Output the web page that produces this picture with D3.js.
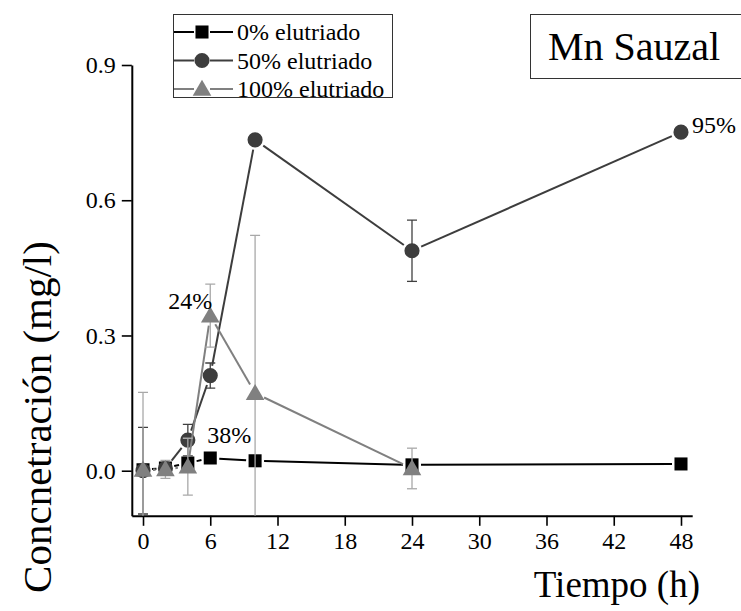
<!DOCTYPE html>
<html>
<head>
<meta charset="utf-8">
<script src="https://cdn.jsdelivr.net/npm/d3@7"></script>
<style>
  html, body { margin: 0; padding: 0; background: #fff; }
  svg text { font-family: 'Liberation Serif', 'Times New Roman', Times, serif !important; fill: #000; }
</style>
</head>
<body>
<svg id="chart" width="741" height="611"></svg>
<script>
// Mn concentration over time for three elutriate proportions
const hours0   = [0, 2, 4, 6, 10, 24, 48];
const conc0    = [0.002, 0.006, 0.017, 0.028, 0.022, 0.013, 0.015];
const err0     = [0, 0, 0, 0, 0, 0, 0];

const hours50  = [0, 2, 4, 6, 10, 24, 48];
const conc50   = [0.000, 0.005, 0.068, 0.211, 0.734, 0.488, 0.751];
const err50    = [0.096, 0, 0.035, 0.028, 0, 0.068, 0];

const hours100 = [0, 2, 4, 6, 10, 24];
const conc100  = [0.002, 0.003, 0.009, 0.344, 0.172, 0.005];
const err100   = [0.172, 0.02, 0.063, 0.07, 0.35, 0.045];

const seriesNames = ["0% elutriado", "50% elutriado", "100% elutriado"];
const xTicks = [0, 6, 12, 18, 24, 30, 36, 42, 48];
const xMinorTicks = [3, 9, 15, 21, 27, 33, 39, 45];
const yTicks = [0.0, 0.3, 0.6, 0.9];
const yMinorTicks = [0.15, 0.45, 0.75];

// Percentage notes placed beside particular points
const notes = [
  { text: "24%", series: 2, index: 3 },
  { text: "38%", series: 0, index: 3 },
  { text: "95%", series: 1, index: 6 }
];

const SERIF = "'Liberation Serif', 'Times New Roman', Times, serif";
const svg = d3.select("#chart");
const x = d3.scaleLinear().domain([-1, 49]).range([131.8, 692.2]);
const y = d3.scaleLinear().domain([-0.1, 0.9]).range([515.8, 65]);

const series = [
  { name: seriesNames[0], hours: hours0,   conc: conc0,   err: err0,
    color: "#000000", errColor: "#000000", symbol: d3.symbolSquare,   size: 170, r: 6.5 },
  { name: seriesNames[1], hours: hours50,  conc: conc50,  err: err50,
    color: "#3d3d3d", errColor: "#404040", symbol: d3.symbolCircle,   size: 180, r: 7.5 },
  { name: seriesNames[2], hours: hours100, conc: conc100, err: err100,
    color: "#808080", errColor: "#a8a8a8", symbol: d3.symbolTriangle, size: 150, r: 7.5 }
];

// Clip region for the data
svg.append("defs").append("clipPath").attr("id", "plotClip")
  .append("rect")
  .attr("x", x(-1)).attr("y", y(0.9) - 20)
  .attr("width", x(49) - x(-1) + 60).attr("height", y(-0.1) - y(0.9) + 20);

// Axes
const axisFont = 24;
const gx = svg.append("g").attr("transform", `translate(0,${y(-0.1)})`);
gx.call(d3.axisBottom(x).tickValues(xMinorTicks).tickSize(5).tickSizeOuter(0).tickFormat(""));
gx.call(d3.axisBottom(x).tickValues(xTicks).tickSize(10).tickSizeOuter(0).tickPadding(6).tickFormat(d3.format("d")));
gx.attr("font-family", SERIF);
gx.selectAll("path.domain").attr("stroke", "#000").attr("stroke-width", 2);
gx.selectAll(".tick line").attr("stroke", "#000").attr("stroke-width", 1.6);
gx.selectAll("text").attr("font-size", axisFont);

const gy = svg.append("g").attr("transform", `translate(${x(-1)},0)`);
gy.call(d3.axisLeft(y).tickValues(yMinorTicks).tickSize(5).tickSizeOuter(0).tickFormat(""));
gy.call(d3.axisLeft(y).tickValues(yTicks).tickSize(10).tickSizeOuter(0).tickPadding(6).tickFormat(d3.format(".1f")));
gy.attr("font-family", SERIF);
gy.selectAll("path.domain").attr("stroke", "#000").attr("stroke-width", 2);
gy.selectAll(".tick line").attr("stroke", "#000").attr("stroke-width", 1.6);
gy.selectAll("text").attr("font-size", axisFont);

// Axis titles
svg.append("text")
  .attr("x", 700).attr("y", 597)
  .attr("text-anchor", "end")
  .attr("font-size", 37)
  .text("Tiempo (h)");

svg.append("text")
  .attr("transform", `translate(51,${417}) rotate(-90)`)
  .attr("text-anchor", "middle")
  .attr("font-size", 41)
  .text("Concnetración (mg/l)");

// Data layer
const plot = svg.append("g").attr("clip-path", "url(#plotClip)");

series.forEach(s => {
  const pts = s.hours.map((h, i) => ({ px: x(h), py: y(s.conc[i]), h, v: s.conc[i], e: s.err[i] }));
  const g = plot.append("g");

  // connecting lines, interrupted around each symbol
  const gap = s.r + 2.5;
  for (let i = 0; i < pts.length - 1; i++) {
    const a = pts[i], b = pts[i + 1];
    const dx = b.px - a.px, dy = b.py - a.py;
    const len = Math.hypot(dx, dy);
    if (len <= 2 * gap) continue;
    const ux = dx / len, uy = dy / len;
    g.append("line")
      .attr("x1", a.px + ux * gap).attr("y1", a.py + uy * gap)
      .attr("x2", b.px - ux * gap).attr("y2", b.py - uy * gap)
      .attr("stroke", s.color).attr("stroke-width", 2);
  }

  // error bars
  pts.filter(p => p.e > 0).forEach(p => {
    const top = y(p.v + p.e), bot = y(p.v - p.e);
    g.append("line").attr("x1", p.px).attr("x2", p.px)
      .attr("y1", top).attr("y2", bot)
      .attr("stroke", s.errColor).attr("stroke-width", 1.3);
    [top, bot].forEach(yy => {
      g.append("line").attr("x1", p.px - 5).attr("x2", p.px + 5)
        .attr("y1", yy).attr("y2", yy)
        .attr("stroke", s.errColor).attr("stroke-width", 1.3);
    });
  });

  // symbols
  g.selectAll("path.sym").data(pts).enter().append("path")
    .attr("class", "sym")
    .attr("transform", p => `translate(${p.px},${p.py + (s.symbol === d3.symbolTriangle ? 1.5 : 0)})`)
    .attr("d", d3.symbol().type(s.symbol).size(s.size))
    .attr("fill", s.color);
});

// Percentage notes
const noteOffsets = {
  "24%": { dx: 2, dy: -7, anchor: "end" },
  "38%": { dx: -3, dy: -15, anchor: "start" },
  "95%": { dx: 11, dy: 1, anchor: "start" }
};
notes.forEach(n => {
  const s = series[n.series];
  const o = noteOffsets[n.text];
  svg.append("text")
    .attr("x", x(s.hours[n.index]) + o.dx)
    .attr("y", y(s.conc[n.index]) + o.dy)
    .attr("text-anchor", o.anchor)
    .attr("font-size", 24)
    .text(n.text);
});

// Legend
const legend = svg.append("g");
legend.append("rect")
  .attr("x", 173.5).attr("y", 14.5).attr("width", 219).attr("height", 83)
  .attr("fill", "#fff").attr("stroke", "#333").attr("stroke-width", 1);
series.forEach((s, i) => {
  const cy = 32 + i * 28.5;
  legend.append("line").attr("x1", 174).attr("x2", 194).attr("y1", cy).attr("y2", cy)
    .attr("stroke", s.color).attr("stroke-width", 2);
  legend.append("line").attr("x1", 210).attr("x2", 233).attr("y1", cy).attr("y2", cy)
    .attr("stroke", s.color).attr("stroke-width", 2);
  legend.append("path")
    .attr("transform", `translate(202,${cy + (s.symbol === d3.symbolTriangle ? 1.5 : 0)})`)
    .attr("d", d3.symbol().type(s.symbol).size(s.size))
    .attr("fill", s.color);
  legend.append("text")
    .attr("x", 237).attr("y", cy + 8)
    .attr("font-size", 24)
    .text(s.name);
});

// Title box
svg.append("rect")
  .attr("x", 530.5).attr("y", 14.5).attr("width", 220).attr("height", 64)
  .attr("fill", "#fff").attr("stroke", "#333").attr("stroke-width", 1);
svg.append("text")
  .attr("x", 548).attr("y", 60)
  .attr("font-size", 40)
  .text("Mn Sauzal");
</script>
</body>
</html>
